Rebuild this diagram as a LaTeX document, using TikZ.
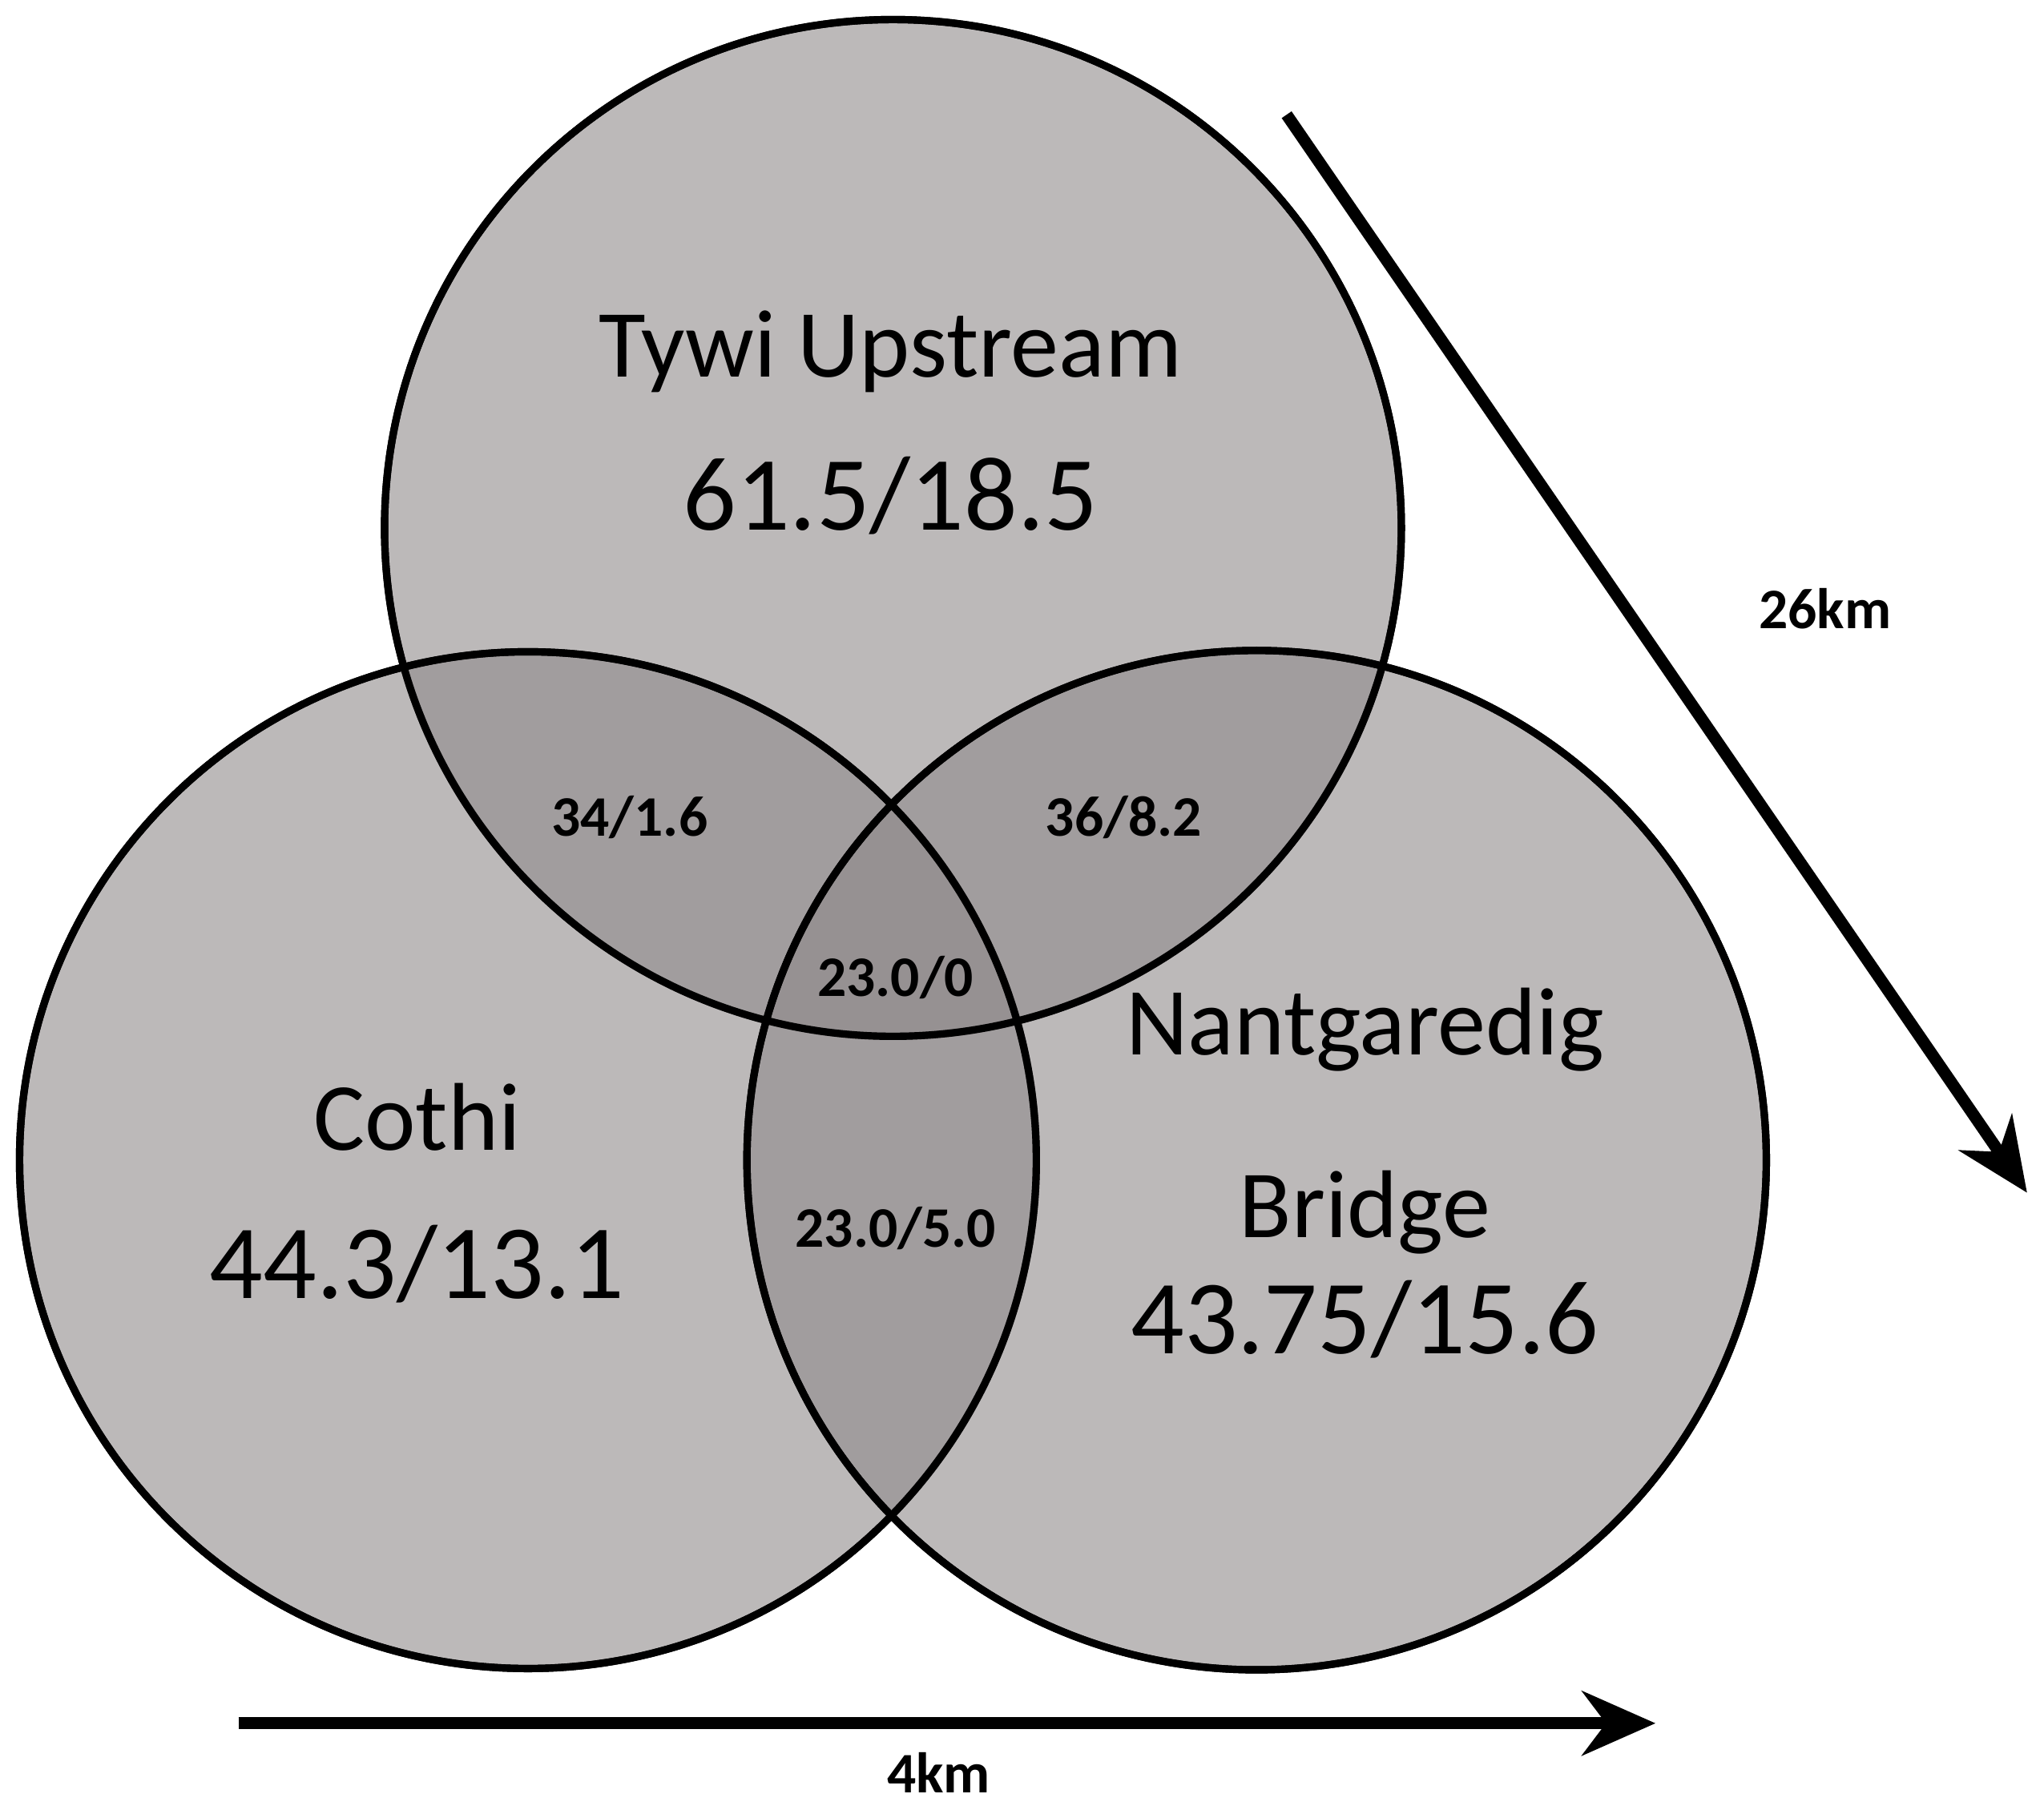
\documentclass[tikz,border=0pt]{standalone}
\usepackage{fontspec}
\setmainfont{Carlito}
\usetikzlibrary{arrows.meta}
\definecolor{vfill}{RGB}{143,138,139}
\begin{document}
\begin{tikzpicture}[x=0.01cm,y=-0.01cm,
  venn/.style={draw=black,line width=1.6pt,fill=vfill,fill opacity=0.6,text opacity=1},
  big/.style={font=\fontsize{21}{25}\selectfont},
  small/.style={font=\bfseries\fontsize{12.5}{15}\selectfont},
  arr/.style={line width=2.6pt,-{Stealth[length=16pt,width=14pt]}}]
\useasboundingbox (0,0) rectangle (1568,1388);
\fill[venn] (685,405) circle (390);
\fill[venn] (405,890) circle (390);
\fill[venn] (964,890) circle (391);
\draw[line width=1.6pt] (685,405) circle (390) (405,890) circle (390) (964,890) circle (391);
\node[big] (tywi) at (683,270) {Tywi Upstream};
\node[big,font=\fontsize{23}{27}\selectfont] (tywiv) at (683,380) {61.5/18.5};
\node[big] (cothi) at (320,857) {Cothi};
\node[big,font=\fontsize{23}{27}\selectfont] (cothiv) at (320,970) {44.3/13.1};
\node[big,align=center,font=\fontsize{21}{40}\selectfont] (nant) at (1047,860) {Nantgaredig\\Bridge};
\node[big,font=\fontsize{23}{27}\selectfont] (nantv) at (1047,1012) {43.75/15.6};
\node[small] (tc) at (483,627) {34/1.6};
\node[small] (tn) at (862,627) {36/8.2};
\node[small] (all) at (687,750) {23.0/0};
\node[small] (cn) at (687,942) {23.0/5.0};
\coordinate (d1) at (987,88);
\coordinate (d2) at (1555,915);
\draw[arr] (d1) -- (d2);
\coordinate (h1) at (183,1322);
\coordinate (h2) at (1270,1322);
\draw[arr] (h1) -- (h2);
\node[small] (km26) at (1400,467) {26km};
\node[small] (km4) at (720,1360) {4km};
\end{tikzpicture}
\end{document}
